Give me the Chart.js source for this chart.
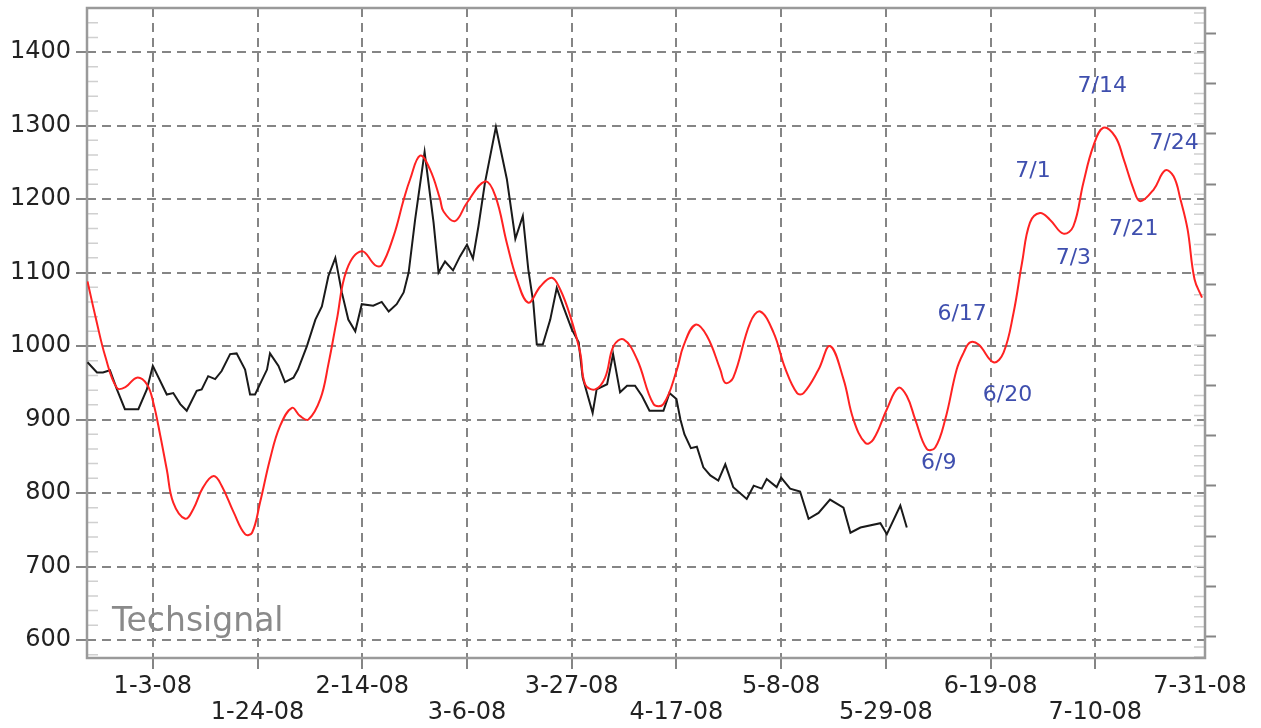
<!DOCTYPE html>
<html>
<head>
<meta charset="utf-8">
<script src="https://cdn.jsdelivr.net/npm/chart.js@4.4.1/dist/chart.umd.min.js"></script>
<style>
  html, body { margin: 0; padding: 0; background: #fff; }
  #wrap { width: 1261px; height: 728px; position: relative; }
</style>
</head>
<body>
<div id="wrap"><canvas id="cycleChart"></canvas></div>
<script>
// x values are calendar days counted from 1-3-08
const priceDays = [-13.1, -11.2, -10.0, -8.6, -7.2, -5.6, -2.9, -1.2, 0, 2.8, 4.1, 5.5, 6.8, 8.8, 9.8, 11.1, 12.5, 13.8,
  15.5, 16.8, 18.5, 19.5, 20.5, 22.9, 23.5, 25.2, 26.5, 28.2, 29.1, 30.9, 32.6, 33.9, 35.2, 36.6, 37.9, 39.2, 40.6,
  41.9, 44.2, 45.9, 47.3, 48.9, 50.3, 51.3, 52.6, 54.5, 56.3, 57.3, 58.6, 60.2, 61.6, 63.0, 64.2, 65.3, 66.6, 68.8,
  71.0, 72.7, 74.2, 75.3, 76.3, 77.0, 78.2, 79.7, 81.0, 82.3, 84.0, 85.4, 86.2, 88.2, 89.0, 91.1, 92.3, 93.7, 95.1,
  96.7, 98.1, 99.6, 102.4, 103.6, 105.0, 105.8, 106.6, 107.9, 109.1, 110.4, 111.8, 113.4, 114.8, 116.4, 119.1, 120.5,
  122.1, 123.1, 125.1, 126.0, 127.8, 129.8, 131.5, 133.5, 135.8, 138.5, 139.9, 141.9, 145.9, 147.2, 149.9, 151.2];
const priceValues = [978, 964, 964, 967, 941, 914, 914, 941, 973, 934, 936, 921, 912, 939, 941, 959, 955, 966,
  989, 990, 968, 934, 934, 968, 990, 973, 951, 957, 968, 1000, 1036, 1054, 1095, 1120, 1073, 1036, 1020,
  1057, 1055, 1060, 1047, 1057, 1073, 1100, 1172, 1264, 1168, 1100, 1115, 1103, 1122, 1138, 1119, 1163, 1222, 1298,
  1227, 1146, 1177, 1104, 1059, 1002, 1002, 1036, 1079, 1054, 1023, 1005, 957, 909, 941, 948, 989, 937, 946,
  946, 932, 912, 912, 936, 928, 900, 880, 861, 863, 835, 824, 817, 839, 808, 792, 810,
  806, 819, 808, 821, 806, 802, 765, 773, 791, 780, 746, 753, 759, 744, 783, 753];

const cycleDays = [-13.1, -11.5, -9.5, -7.2, -5.5, -3.2, -1.2, 0.1, 1.5, 2.8, 4.1, 6.5, 8.1, 10.1, 12.2, 13.8, 16.2,
  18.5, 19.9, 21.5, 23.5, 25.5, 27.9, 29.5, 31.2, 33.6, 35.2, 36.9, 38.9, 41.9, 44.6, 45.9, 48.3, 50.3, 51.6, 53.6,
  55.6, 57.6, 58.3, 60.6, 63.0, 66.6, 68.7, 71.0, 73.0, 75.3, 77.7, 80.0, 81.7, 83.7, 85.7, 86.7, 88.7, 90.7, 92.4,
  94.4, 97.1, 100.4, 102.4, 105.1, 106.4, 108.8, 111.1, 113.8, 114.8, 116.4, 119.8, 121.8, 124.5, 126.8, 129.2, 130.5,
  133.5, 135.8, 138.5, 140.5, 142.9, 144.5, 147.2, 149.5, 151.2, 152.9, 155.2, 156.9, 158.9, 161.2, 162.6, 163.9,
  165.6, 168.6, 170.6, 172.6, 174.3, 175.9, 177.9, 179.9, 182.6, 184.6, 186.6, 188.6, 190.6, 193.0, 194.7, 196.7,
  198.0, 200.7, 203.0, 204.7, 206.1, 207.5, 208.9, 210.4];
const cycleValues = [1088, 1040, 985, 943, 944, 957, 948, 923, 878, 832, 787, 765, 778, 808, 823, 810, 774,
  744, 746, 787, 846, 891, 916, 905, 900, 928, 975, 1036, 1104, 1129, 1110, 1110, 1150, 1199, 1227, 1259,
  1240, 1200, 1183, 1170, 1195, 1224, 1204, 1140, 1091, 1059, 1081, 1093, 1077, 1041, 991, 948, 941, 957, 1000,
  1009, 982, 921, 921, 968, 1000, 1029, 1014, 968, 950, 957, 1032, 1047, 1018, 970, 936, 936,
  968, 1000, 955, 900, 868, 873, 914, 943, 932, 900, 860, 862, 900, 968, 991, 1005,
  1002, 978, 991, 1045, 1113, 1168, 1181, 1172, 1153, 1163, 1222, 1272, 1297, 1285, 1254, 1213,
  1197, 1213, 1239, 1231, 1199, 1159, 1091, 1066];

const xTickDays = [0, 21, 42, 63, 84, 105, 126, 147, 168, 189, 210];
const xTickLabels = ['1-3-08', '1-24-08', '2-14-08', '3-6-08', '3-27-08', '4-17-08', '5-8-08', '5-29-08', '6-19-08', '7-10-08', '7-31-08'];
const yTickValues = [600, 700, 800, 900, 1000, 1100, 1200, 1300, 1400];
const rightTickValues = [0, 1, 2, 3, 4, 5, 6, 7, 8, 9, 10, 11, 12];

const noteLabels = ['7/14', '7/24', '7/1', '7/21', '7/3', '6/17', '6/20', '6/9'];
const noteDays = [190.4, 204.8, 176.5, 196.7, 184.6, 162.3, 171.4, 157.6];
const noteValues = [1354, 1276, 1238, 1159, 1119, 1043, 933, 841];

const gridColor = '#858585';
const frameColor = '#9a9a9a';
const minorColor = '#d0d0d0';

Chart.defaults.font.family = '"DejaVu Sans", Verdana, sans-serif';
Chart.defaults.color = '#222';

function noPadding(scale) {
  scale.paddingTop = 0;
  scale.paddingBottom = 0;
  scale.paddingLeft = 0;
  scale.paddingRight = 0;
}

const decorations = {
  id: 'decorations',
  beforeDatasetsDraw(chart) {
    const { ctx, chartArea: a, scales } = chart;
    ctx.save();
    // minor ticks inside the frame
    ctx.strokeStyle = minorColor;
    ctx.lineWidth = 1.5;
    ctx.beginPath();
    for (let v = 580; v <= 1460; v += 20) {
      if (v % 100 === 0) continue;
      const y = scales.y.getPixelForValue(v);
      if (y < a.top || y > a.bottom) continue;
      ctx.moveTo(a.left, y);
      ctx.lineTo(a.left + 11, y);
    }
    for (let k = -2; k <= 63; k++) {
      if (k % 5 === 0) continue;
      const y = scales.y2.getPixelForValue(k / 5);
      if (y < a.top || y > a.bottom) continue;
      ctx.moveTo(a.right, y);
      ctx.lineTo(a.right - 11, y);
    }
    ctx.stroke();
    // frame
    ctx.strokeStyle = frameColor;
    ctx.lineWidth = 2.5;
    ctx.strokeRect(a.left, a.top, a.right - a.left, a.bottom - a.top);
    // watermark
    ctx.fillStyle = '#8a8a8a';
    ctx.font = '33px "DejaVu Sans", sans-serif';
    ctx.textAlign = 'left';
    ctx.textBaseline = 'alphabetic';
    ctx.fillText('Techsignal', a.left + 25, a.bottom - 27);
    ctx.restore();
  },
  afterDatasetsDraw(chart) {
    const { ctx, scales } = chart;
    ctx.save();
    ctx.fillStyle = '#3f4fae';
    ctx.font = '22px "DejaVu Sans", sans-serif';
    ctx.textAlign = 'center';
    ctx.textBaseline = 'middle';
    noteLabels.forEach((t, i) => {
      ctx.fillText(t, scales.x.getPixelForValue(noteDays[i]), scales.y.getPixelForValue(noteValues[i]));
    });
    ctx.restore();
  }
};

const ctx = document.getElementById('cycleChart').getContext('2d');
new Chart(ctx, {
  type: 'line',
  data: {
    datasets: [
      {
        label: 'Cycle',
        data: cycleDays.map((d, i) => ({ x: d, y: cycleValues[i] })),
        borderColor: '#ff2222',
        borderWidth: 2,
        tension: 0.4,
        pointRadius: 0,
        fill: false,
      },
      {
        label: 'Price',
        data: priceDays.map((d, i) => ({ x: d, y: priceValues[i] })),
        borderColor: '#1a1a1a',
        borderWidth: 2,
        tension: 0,
        pointRadius: 0,
        fill: false,
      },
    ],
  },
  options: {
    responsive: true,
    maintainAspectRatio: false,
    animation: false,
    layout: { padding: { top: 8, left: 0, right: 0, bottom: 0 } },
    plugins: {
      legend: { display: false },
      tooltip: { enabled: false },
    },
    scales: {
      x: {
        type: 'linear',
        min: -13.2,
        max: 211,
        afterBuildTicks(scale) { scale.ticks = xTickDays.map(v => ({ value: v })); },
        afterFit(scale) { scale.height = 70; noPadding(scale); },
        border: { display: false, dash: [9, 6] },
        grid: {
          color: ctx => (ctx.tick && ctx.tick.value === 210 ? 'rgba(0,0,0,0)' : gridColor),
          tickColor: ctx => (ctx.tick && ctx.tick.value === 210 ? 'rgba(0,0,0,0)' : gridColor),
          lineWidth: 2,
          tickWidth: 2,
          tickLength: 11,
          tickBorderDash: [],
        },
        ticks: {
          autoSkip: false,
          maxRotation: 0,
          padding: 5,
          font: { size: 24, lineHeight: 1.08 },
          color: '#222',
          callback(value, index) {
            const label = xTickLabels[xTickDays.indexOf(value)];
            return index % 2 === 0 ? label : ['', label];
          },
        },
      },
      y: {
        position: 'left',
        min: 575.5,
        max: 1460,
        afterBuildTicks(scale) { scale.ticks = yTickValues.map(v => ({ value: v })); },
        afterFit(scale) { scale.width = 87; noPadding(scale); },
        border: { display: false, dash: [9, 6] },
        grid: {
          color: gridColor,
          tickColor: gridColor,
          lineWidth: 2,
          tickWidth: 2,
          tickLength: 11,
          tickBorderDash: [],
        },
        ticks: {
          padding: 5,
          font: { size: 24 },
          color: '#222',
          callback: value => String(value),
        },
      },
      y2: {
        position: 'right',
        min: -0.42,
        max: 12.5,
        afterBuildTicks(scale) { scale.ticks = rightTickValues.map(v => ({ value: v })); },
        afterFit(scale) { scale.width = 56; noPadding(scale); },
        border: { display: false },
        grid: {
          drawOnChartArea: false,
          tickColor: gridColor,
          tickWidth: 2,
          tickLength: 11,
        },
        ticks: { display: false },
      },
    },
  },
  plugins: [decorations],
});
</script>
</body>
</html>
